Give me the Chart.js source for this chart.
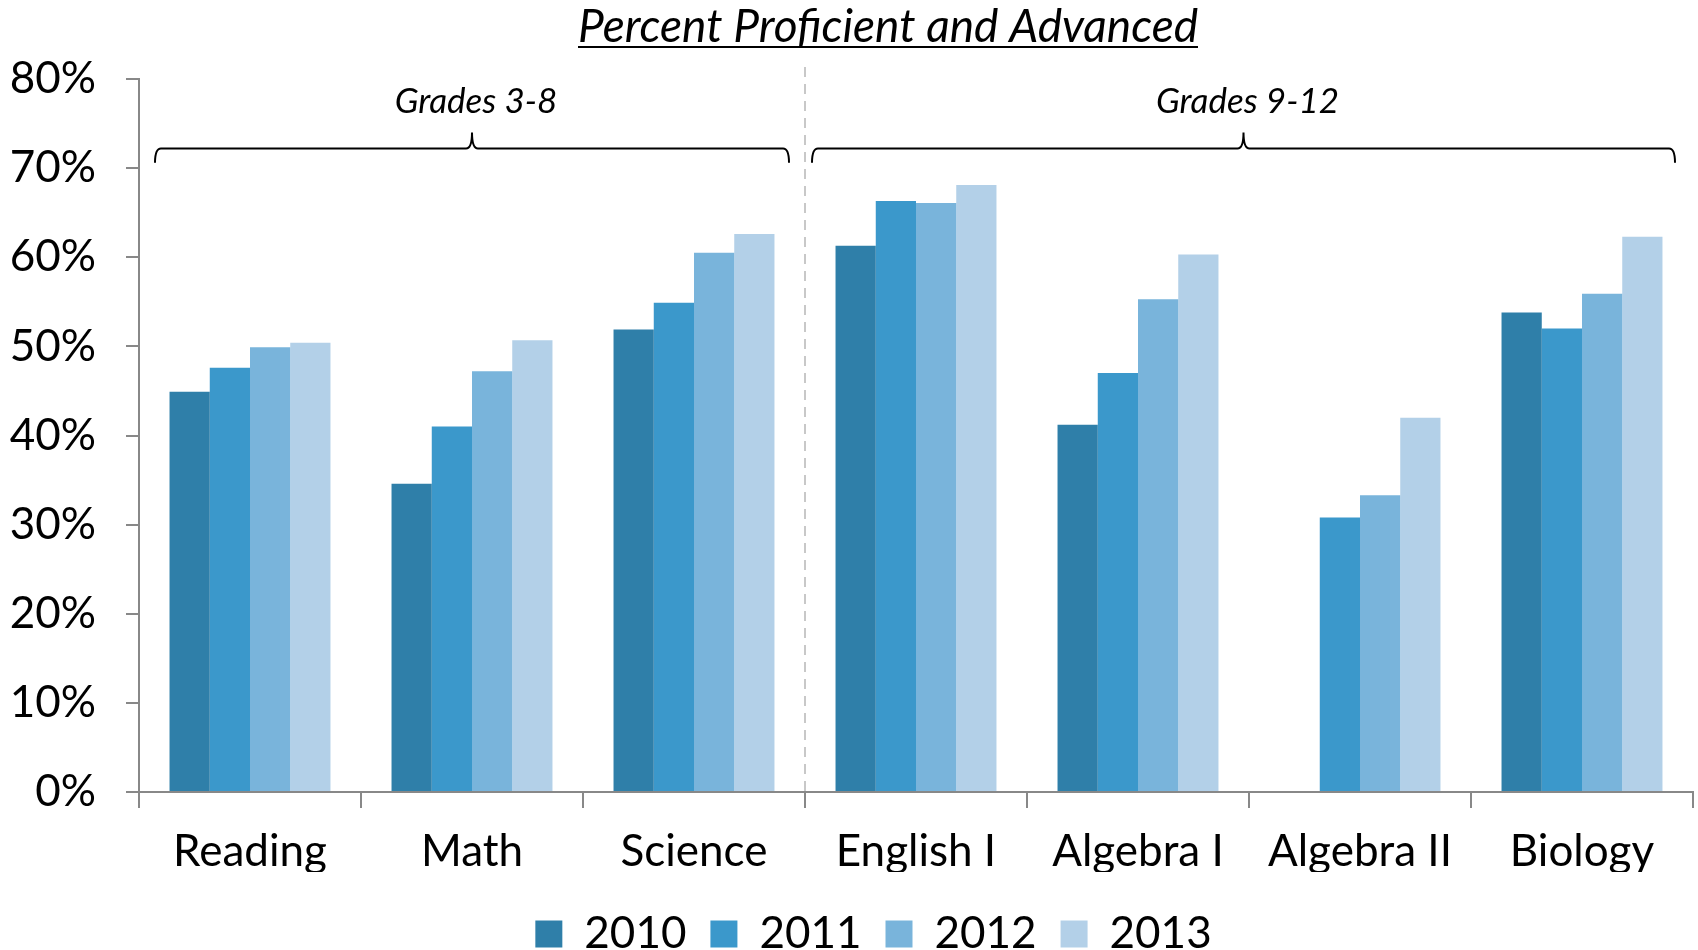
<!DOCTYPE html>
<html>
<head>
<meta charset="utf-8">
<script src="https://cdn.jsdelivr.net/npm/chart.js"></script>
<style>
  body { margin: 0; background: #fff; }
  #wrap { width: 1698px; height: 950px; }
</style>
</head>
<body>
<div id="wrap"><canvas id="myChart" width="1698" height="950"></canvas></div>
<script>
// Percent proficient and advanced, by subject and year

const subjects = ['Reading', 'Math', 'Science', 'English I', 'Algebra I', 'Algebra II', 'Biology'];
const years = ['2010', '2011', '2012', '2013'];

const values2010 = [44.9, 34.6, 51.9, 61.3, 41.2, null, 53.8];
const values2011 = [47.6, 41.0, 54.9, 66.3, 47.0, 30.8, 52.0];
const values2012 = [49.9, 47.2, 60.5, 66.1, 55.3, 33.3, 55.9];
const values2013 = [50.4, 50.7, 62.6, 68.1, 60.3, 42.0, 62.3];

const yTicks = [0, 10, 20, 30, 40, 50, 60, 70, 80];

// grade bands shown with braces above the bars
const bandLabels = ['Grades 3-8', 'Grades 9-12'];
const bandFirst = [0, 3];
const bandLast = [2, 6];

const colors = ['#2f7fa9', '#3b98cb', '#79b4db', '#b3d0e8'];
const font = 'Lato, "Open Sans", sans-serif';

// nudge the legend to where the original sits
const legendShift = {
    id: 'legendShift',
    afterLayout(chart) {
        const lg = chart.legend;
        lg.left += 27; lg.right += 27;
        lg.top += 16; lg.bottom += 16;
    }
};

// dashed divider + braces + labels + title
const bandsPlugin = {
    id: 'bands',
    afterDraw(chart) {
        const ctx = chart.ctx;
        const x = chart.scales.x;
        const y = chart.scales.y;
        const half = (x.getPixelForValue(1) - x.getPixelForValue(0)) / 2;
        const divider = (x.getPixelForValue(2) + x.getPixelForValue(3)) / 2;

        ctx.save();
        ctx.strokeStyle = '#c8c8c8';
        ctx.lineWidth = 2;
        ctx.setLineDash([10, 7]);
        ctx.beginPath();
        ctx.moveTo(divider, chart.chartArea.top - 12);
        ctx.lineTo(divider, y.getPixelForValue(0));
        ctx.stroke();
        ctx.setLineDash([]);

        const lineY = y.getPixelForValue(72.2);
        const endY = y.getPixelForValue(70.6);
        const peakY = y.getPixelForValue(74.0);
        const textY = y.getPixelForValue(77.5);

        bandLabels.forEach((label, i) => {
            let left = x.getPixelForValue(bandFirst[i]) - half;
            let right = x.getPixelForValue(bandLast[i]) + half;
            left += (i === 0) ? 16 : 7;
            right -= (i === 0) ? 16 : 18;
            const mid = (left + right) / 2;
            const r = 6;

            ctx.strokeStyle = '#000';
            ctx.lineWidth = 2;
            ctx.beginPath();
            ctx.moveTo(left, endY);
            ctx.quadraticCurveTo(left, lineY, left + r, lineY);
            ctx.lineTo(mid - r, lineY);
            ctx.quadraticCurveTo(mid, lineY, mid, peakY);
            ctx.quadraticCurveTo(mid, lineY, mid + r, lineY);
            ctx.lineTo(right - r, lineY);
            ctx.quadraticCurveTo(right, lineY, right, endY);
            ctx.stroke();

            ctx.fillStyle = '#000';
            ctx.font = 'italic 35px ' + font;
            ctx.textAlign = 'center';
            ctx.textBaseline = 'middle';
            ctx.fillText(label, mid + 4, textY);
        });

        // title, underlined
        const title = 'Percent Proficient and Advanced';
        ctx.font = 'italic 46px ' + font;
        ctx.textAlign = 'center';
        ctx.textBaseline = 'alphabetic';
        const tx = 888, ty = 42;
        ctx.fillText(title, tx, ty);
        const w = ctx.measureText(title).width;
        ctx.lineWidth = 2;
        ctx.beginPath();
        ctx.moveTo(tx - w / 2, ty + 5);
        ctx.lineTo(tx + w / 2, ty + 5);
        ctx.stroke();
        ctx.restore();
    }
};

const ctx = document.getElementById('myChart').getContext('2d');
new Chart(ctx, {
    type: 'bar',
    data: {
        labels: subjects,
        datasets: [values2010, values2011, values2012, values2013].map((vals, i) => ({
            label: years[i],
            data: vals,
            backgroundColor: colors[i],
            borderWidth: 0,
            categoryPercentage: 0.725,
            barPercentage: 1.0
        }))
    },
    options: {
        responsive: false,
        animation: false,
        layout: { padding: { top: 79, right: 5, left: 0, bottom: 0 } },
        plugins: {
            title: { display: false },
            tooltip: { enabled: false },
            legend: {
                position: 'bottom',
                labels: {
                    font: { family: font, size: 44 },
                    color: '#000',
                    boxWidth: 27,
                    boxHeight: 27,
                    padding: 24
                }
            }
        },
        scales: {
            x: {
                offset: true,
                grid: { offset: true, drawOnChartArea: false, tickLength: 16, color: '#888', lineWidth: 2 },
                border: { color: '#888', width: 2 },
                ticks: { font: { family: font, size: 44 }, color: '#000', padding: 17 },
                afterFit(scale) { scale.height = 80; }
            },
            y: {
                min: 0,
                max: 80,
                afterBuildTicks(scale) { scale.ticks = yTicks.map(v => ({ value: v })); },
                grid: { drawOnChartArea: false, tickLength: 13, color: '#888', lineWidth: 2 },
                border: { color: '#888', width: 2 },
                ticks: {
                    font: { family: font, size: 44 },
                    color: '#000',
                    padding: 30,
                    callback: v => v + '%'
                },
                afterFit(scale) { scale.width = 139; }
            }
        }
    },
    plugins: [legendShift, bandsPlugin]
});
</script>
</body>
</html>
